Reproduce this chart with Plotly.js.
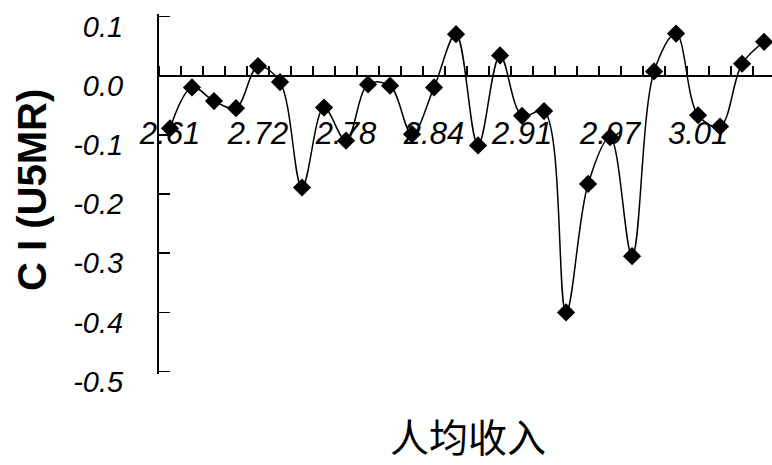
<!DOCTYPE html>
<html>
<head>
<meta charset="utf-8">
<script src="https://cdn.plot.ly/plotly-3.0.1.min.js"></script>
<style>
  html, body { margin: 0; padding: 0; background: #fff; }
  #chart { width: 772px; height: 465px; }
</style>
</head>
<body>
<div id="chart"></div>
<script>
// Concentration index of under-5 mortality (U5MR) across per-capita income groups
const ciValues = [
  -0.089, -0.020, -0.043, -0.055,  0.016, -0.011, -0.189, -0.054,
  -0.110, -0.015, -0.017, -0.099, -0.020,  0.070, -0.118,  0.034,
  -0.068, -0.060, -0.400, -0.183, -0.104, -0.305,  0.007,  0.071,
  -0.067, -0.086,  0.020,  0.057
];

// Income labels shown on the category axis (every fourth group)
const incomeTickPos = [0, 4, 8, 12, 16, 20, 24];
const incomeTickText = ['2.61', '2.72', '2.78', '2.84', '2.91', '2.97', '3.01'];

const yTickVals = [0.1, 0.0, -0.1, -0.2, -0.3, -0.4, -0.5];

const xTitle = '人均收入';
const yTitle = 'C I (U5MR)';

const groupIndex = ciValues.map((_, i) => i);

const yMin = -0.5, yMax = 0.1;
const pad = 0.004; // keeps the end tick marks drawn

const trace = {
  x: groupIndex,
  y: ciValues,
  type: 'scatter',
  mode: 'lines+markers',
  line: { color: '#000', width: 1.5, shape: 'spline', smoothing: 1 },
  marker: { symbol: 'diamond', size: 14, color: '#000' },
  hoverinfo: 'skip',
  cliponaxis: false
};

const layout = {
  width: 772,
  height: 465,
  margin: { l: 159, r: 0, t: 14, b: 91, pad: 0 },
  paper_bgcolor: '#fff',
  plot_bgcolor: '#fff',
  showlegend: false,
  font: { family: '"Liberation Sans", Arial, sans-serif', color: '#000' },
  xaxis: {
    range: [-0.5, 27.36],
    anchor: 'free',
    position: (0 - (yMin - pad)) / (yMax - yMin + 2 * pad),
    showgrid: false,
    zeroline: false,
    showline: true,
    linecolor: '#000',
    linewidth: 2,
    tickmode: 'array',
    tickvals: incomeTickPos,
    ticktext: incomeTickText,
    ticks: '',
    ticklabelstandoff: 30,
    tickfont: { family: '"Liberation Sans", Arial, sans-serif', size: 31, color: '#000', style: 'italic' },
    minor: { tick0: -0.5, dtick: 1, ticks: 'inside', ticklen: 9, tickwidth: 1.5, tickcolor: '#000', showgrid: false }
  },
  yaxis: {
    range: [yMin - pad, yMax + pad],
    showgrid: false,
    zeroline: false,
    showline: true,
    linecolor: '#000',
    linewidth: 2,
    tickmode: 'array',
    tickvals: yTickVals,
    ticktext: yTickVals.map(v => v.toFixed(1)),
    ticks: 'inside',
    ticklen: 11,
    tickwidth: 1.5,
    tickcolor: '#000',
    ticklabelstandoff: 28,
    ticklabelshift: 10,
    tickfont: { family: '"Liberation Sans", Arial, sans-serif', size: 29, color: '#000', style: 'italic' }
  },
  annotations: [
    {
      text: yTitle,
      xref: 'paper', yref: 'paper',
      x: 0, y: 0.5,
      xanchor: 'center', yanchor: 'middle',
      xshift: -127, yshift: 4,
      textangle: -90,
      showarrow: false,
      font: { family: '"Liberation Sans", Arial, sans-serif', size: 40, color: '#000', weight: 'bold' }
    },
    {
      text: xTitle,
      xref: 'paper', yref: 'paper',
      x: 0.504, y: 0,
      xanchor: 'center', yanchor: 'middle',
      yshift: -61,
      showarrow: false,
      font: { family: '"Noto Sans CJK SC", sans-serif', size: 39, color: '#000' }
    }
  ]
};

Plotly.newPlot('chart', [trace], layout, { displayModeBar: false, staticPlot: true });
</script>
</body>
</html>
